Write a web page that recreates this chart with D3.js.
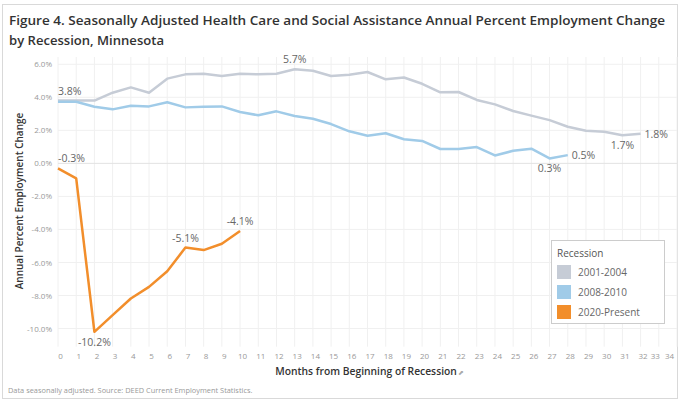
<!DOCTYPE html>
<html>
<head>
<meta charset="utf-8">
<script src="https://cdn.jsdelivr.net/npm/d3@7"></script>
<style>
  body { margin: 0; background: #fff; }
  svg { display: block; font-family: "Open Sans", sans-serif; }
</style>
</head>
<body>
<svg width="681" height="406"></svg>
<script>
// data
var recessions = ["2001-2004", "2008-2010", "2020-Present"];
var colors = ["#c6ccd6", "#a0cbe8", "#f28e2b"];

var gray01 = [3.8, 3.8, 3.8, 4.28, 4.6, 4.28, 5.13, 5.39, 5.43, 5.29, 5.43, 5.39, 5.43, 5.7, 5.61, 5.29,
  5.37, 5.53, 5.09, 5.2, 4.82, 4.3, 4.32, 3.84, 3.57, 3.17, 2.89, 2.62, 2.22, 1.98, 1.92, 1.7, 1.8];
var blue08 = [3.73, 3.73, 3.43, 3.27, 3.49, 3.45, 3.7, 3.39, 3.43, 3.45, 3.11, 2.91, 3.15, 2.87, 2.7, 2.38,
  1.94, 1.67, 1.82, 1.46, 1.36, 0.87, 0.87, 0.99, 0.48, 0.76, 0.89, 0.3, 0.5];
var orange20 = [-0.3, -0.91, -10.2, -9.19, -8.18, -7.48, -6.53, -5.1, -5.25, -4.87, -4.1];

var yTicks = [6, 4, 2, 0, -2, -4, -6, -8, -10];
var xTicks = d3.range(0, 35);

// which points get a value label, and where
var labels = [
  { s: 0, i: 0, pos: "above" }, { s: 0, i: 13, pos: "above" }, { s: 0, i: 31, pos: "below" }, { s: 0, i: 32, pos: "right" },
  { s: 1, i: 27, pos: "below" }, { s: 1, i: 28, pos: "right" },
  { s: 2, i: 0, pos: "above" }, { s: 2, i: 2, pos: "below" }, { s: 2, i: 7, pos: "above" }, { s: 2, i: 10, pos: "above" }
];

var series = [gray01, blue08, orange20];

var svg = d3.select("svg");

// outer frame
svg.append("rect").attr("x", 2.5).attr("y", 4.5).attr("width", 675).attr("height", 394)
  .attr("fill", "none").attr("stroke", "#d9d9d9");

svg.append("text").attr("x", 9).attr("y", 25).attr("font-size", 13.2).attr("fill", "#333")
  .attr("font-weight", 600).attr("textLength", 656).attr("lengthAdjust", "spacingAndGlyphs")
  .text("Figure 4. Seasonally Adjusted Health Care and Social Assistance Annual Percent Employment Change");
svg.append("text").attr("x", 9).attr("y", 45).attr("font-size", 13.2).attr("fill", "#333")
  .attr("font-weight", 600).attr("textLength", 155).attr("lengthAdjust", "spacingAndGlyphs")
  .text("by Recession, Minnesota");

var x = d3.scaleLinear().domain([0, 34]).range([58, 677]);
var y = d3.scaleLinear().domain([-11.1, 6.44]).range([346.7, 57]);

var grid = svg.append("g");
grid.selectAll(".vg").data(xTicks).enter().append("line")
  .attr("x1", d => x(d)).attr("x2", d => x(d)).attr("y1", y.range()[1]).attr("y2", y.range()[0])
  .attr("stroke", "#f0f0f0");
grid.selectAll(".hg").data(yTicks).enter().append("line")
  .attr("x1", x(0)).attr("x2", x(34)).attr("y1", d => y(d)).attr("y2", d => y(d))
  .attr("stroke", d => d === 0 ? "#e2e2e2" : "#f0f0f0");

// y axis
var yAxis = svg.append("g").attr("transform", "translate(55,0)")
  .call(d3.axisLeft(y).tickValues(yTicks).tickSize(0).tickFormat(d => d.toFixed(1) + "%"));
yAxis.select(".domain").remove();
yAxis.selectAll("text").attr("font-size", 8).attr("fill", "#999").attr("font-family", "Open Sans");

// x axis
var xAxis = svg.append("g").attr("transform", "translate(0,350)")
  .call(d3.axisBottom(x).tickValues(xTicks).tickSize(0));
xAxis.select(".domain").remove();
xAxis.selectAll("text").attr("font-size", 8).attr("fill", "#999").attr("font-family", "Open Sans")
  .attr("dx", d => d === 34 ? -8 : (d === 33 ? -4 : 2));

svg.append("text").attr("transform", "translate(23,201) rotate(-90)").attr("text-anchor", "middle")
  .attr("font-size", 10).attr("font-weight", 600).attr("fill", "#333")
  .text("Annual Percent Employment Change");

svg.append("text").attr("x", 366).attr("y", 375).attr("text-anchor", "middle")
  .attr("font-size", 10.3).attr("font-weight", 600).attr("fill", "#333")
  .text("Months from Beginning of Recession");
svg.append("text").attr("x", 458).attr("y", 375).attr("font-size", 7).attr("fill", "#aaa").text("⬈");

svg.append("text").attr("x", 8).attr("y", 393).attr("font-size", 7.4).attr("fill", "#999")
  .text("Data seasonally adjusted. Source: DEED Current Employment Statistics.");

// lines
var line = d3.line().x((d, i) => x(i)).y(d => y(d));
svg.selectAll(".series").data(series).enter().append("path")
  .attr("d", d => line(d)).attr("fill", "none")
  .attr("stroke", (d, i) => colors[i]).attr("stroke-width", 2.5).attr("stroke-linejoin", "round");

// value labels
svg.selectAll(".lbl").data(labels).enter().append("text")
  .attr("x", d => d.pos === "right" ? x(d.i) + 4 : x(d.i))
  .attr("y", d => {
    var py = y(series[d.s][d.i]);
    if (d.pos === "above") return py - 6;
    if (d.pos === "below") return py + 14;
    return py + 4;
  })
  .attr("text-anchor", d => d.pos === "right" || d.i === 0 ? "start" : "middle")
  .attr("font-size", 10.5).attr("fill", "#666")
  .text(d => series[d.s][d.i].toFixed(1) + "%");

// legend
var lg = svg.append("g").attr("transform", "translate(551,240)");
lg.append("rect").attr("x", 0.5).attr("y", 0.5).attr("width", 113).attr("height", 83)
  .attr("fill", "#fff").attr("stroke", "#ccc");
lg.append("text").attr("x", 6).attr("y", 17).attr("font-size", 10).attr("fill", "#555").text("Recession");
var items = lg.selectAll(".it").data(recessions).enter().append("g")
  .attr("transform", (d, i) => "translate(6," + (25 + i * 20) + ")");
items.append("rect").attr("width", 14).attr("height", 14).attr("fill", (d, i) => colors[i]);
items.append("text").attr("x", 21).attr("y", 11).attr("font-size", 10).attr("fill", "#666").text(d => d);
</script>
</body>
</html>
